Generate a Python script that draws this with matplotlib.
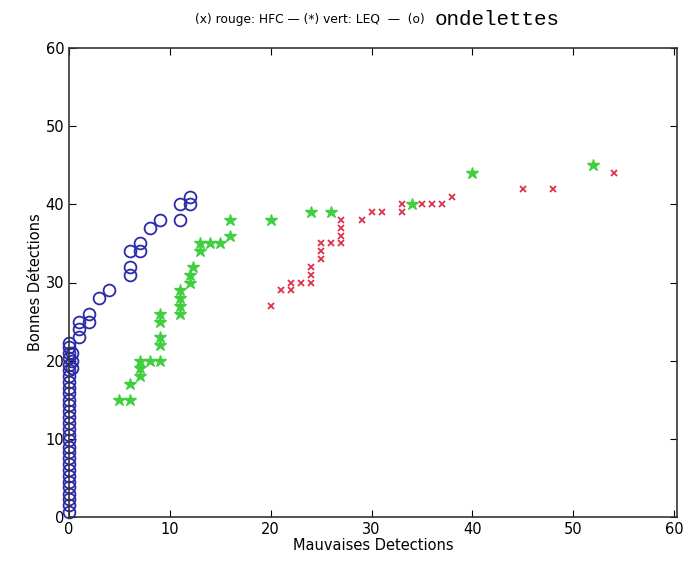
import matplotlib
matplotlib.use('Agg')
import matplotlib.pyplot as plt

# (o) ondelettes - blue circles
ond_x = [0]*30 + [0.3, 0.3, 0.3, 1, 1, 1, 2, 2, 3, 4, 6, 6, 6, 7, 7, 8, 9, 11, 11, 12, 12]
ond_y = [0.7, 1.5, 2.3, 3, 3.8, 4.5, 5.3, 6, 6.8, 7.5, 8.3, 9, 9.8, 10.5, 11.2, 12, 12.8, 13.5,
         14.3, 15, 15.8, 16.5, 17.3, 18, 18.8, 19.5, 20.3, 21, 21.8, 22.3,
         19, 20, 21, 23, 24, 25, 25, 26, 28, 29, 31, 32, 34, 34, 35, 37, 38, 38, 40, 40, 41]

# (*) vert: LEQ - green stars
leq_x = [5, 6, 6, 7, 7, 7, 8, 9, 9, 9, 9, 9, 11, 11, 11, 11, 12, 12, 12.3, 13, 13, 14, 15, 16, 16,
         20, 24, 26, 34, 40, 52]
leq_y = [15, 15, 17, 18, 19, 20, 20, 20, 22, 23, 25, 26, 26, 27, 28, 29, 30, 31, 32, 34, 35, 35, 35, 36, 38,
         38, 39, 39, 40, 44, 45]

# (x) rouge: HFC - red crosses
hfc_x = [20, 21, 22, 22, 23, 24, 24, 24, 25, 25, 25, 26, 27, 27, 27, 27, 29, 30, 31, 33, 33,
         35, 36, 37, 38, 45, 48, 54]
hfc_y = [27, 29, 29, 30, 30, 30, 31, 32, 33, 34, 35, 35, 35, 36, 37, 38, 38, 39, 39, 39, 40,
         40, 40, 40, 41, 42, 42, 44]

fig = plt.figure(figsize=(6.88, 5.65), dpi=100)
ax = fig.add_axes([0.1003, 0.085, 0.884, 0.83])

ax.plot(ond_x, ond_y, 'o', mfc='none', mec='#2b2ba8', ms=8.5, mew=1.3, linestyle='none', clip_on=False)
ax.plot(leq_x, leq_y, '*', color='#3fcf3f', ms=9, linestyle='none')
ax.plot(hfc_x, hfc_y, 'x', color='#e0304a', ms=5, mew=1.3, linestyle='none')

ax.set_xlim(0, 60.3)
ax.set_ylim(0, 60)
ax.set_xticks(range(0, 61, 10))
ax.set_yticks(range(0, 61, 10))
ax.tick_params(direction='in', top=True, right=True, labelsize=10.5, length=5)
for s in ax.spines.values():
    s.set_color('#333333')
    s.set_linewidth(1.2)

ax.set_xlabel('Mauvaises Detections', fontsize=10.5, labelpad=1)
ax.set_ylabel('Bonnes Détections', fontsize=10.5, labelpad=2)
fig.text(0.618, 0.966, '(x) rouge: HFC \u2014 (*) vert: LEQ  \u2014  (o)', ha='right', va='center',
         fontsize=8.8, family='DejaVu Sans')
fig.text(0.632, 0.966, 'ondelettes', ha='left', va='center', fontsize=15, family='Liberation Mono')

fig.savefig('out.png', dpi=100)
